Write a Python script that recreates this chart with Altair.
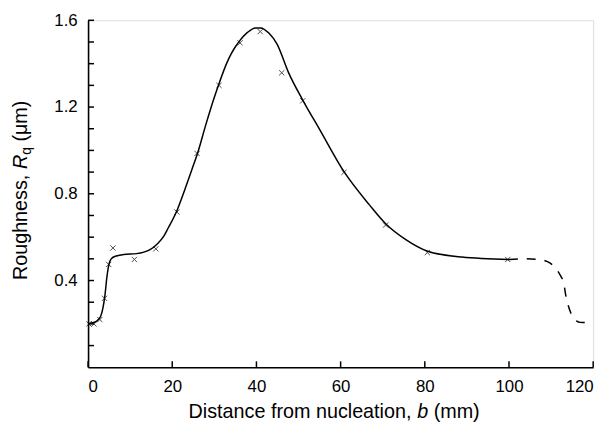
import altair as alt
import pandas as pd

# ---- data ----
curve_x = [0, 1, 2, 3, 3.5, 4, 4.5, 5, 5.5, 6.5, 8.5, 11.5, 14.5, 16.5, 18, 19, 21, 23, 25, 26,
           28, 30, 31, 33, 34, 35, 36, 37.8, 39.8, 41, 43, 44.9, 47.6, 51, 55, 60.8,
           66.8, 70.7, 75.4, 80.7, 88.8, 100]
curve_y = [0.20, 0.205, 0.212, 0.235, 0.27, 0.33, 0.42, 0.478, 0.50, 0.512, 0.52, 0.524, 0.54, 0.57, 0.605, 0.641, 0.717, 0.82, 0.93, 0.986,
           1.12, 1.245, 1.302, 1.405, 1.445, 1.478, 1.505, 1.543, 1.565, 1.565, 1.54, 1.49, 1.36, 1.232, 1.097, 0.902,
           0.75, 0.662, 0.59, 0.535, 0.508, 0.497]

dash_x = [100, 104, 107, 109, 110.7, 112.3, 113, 113.5, 114, 114.7, 116, 117, 120]
dash_y = [0.497, 0.50, 0.497, 0.488, 0.465, 0.42, 0.39, 0.33, 0.29, 0.25, 0.214, 0.207, 0.205]

pt_x = [0.2, 1.4, 2.8, 3.9, 4.9, 5.9, 11, 16.1, 21.1, 25.9, 31.1, 36.1, 40.9, 46.0, 51, 60.8, 70.7, 80.6, 99.7]
pt_y = [0.20, 0.20, 0.22, 0.318, 0.474, 0.55, 0.497, 0.546, 0.716, 0.986, 1.30, 1.496, 1.548, 1.358, 1.229, 0.899, 0.656, 0.529, 0.497]

x_tick_values = [0, 20, 40, 60, 80, 100, 120]
y_label_values = [0.4, 0.8, 1.2, 1.6]
y_tick_values = [0.1, 0.2, 0.3, 0.4, 0.5, 0.6, 0.7, 0.8, 0.9, 1.0, 1.1, 1.2, 1.3, 1.4, 1.5, 1.6]

W, H = 511, 351
FONT = "Liberation Sans"

xscale = alt.Scale(domain=[0, 120], nice=False, zero=False)
yscale = alt.Scale(domain=[0, 1.6], nice=False, zero=False)

axis_common = dict(
    title=None, grid=False, ticks=False, tickSize=0,
    domainColor="black", domainWidth=1.6,
    labelColor="black", labelFont=FONT, labelFontSize=17,
)
xaxis = alt.Axis(values=x_tick_values, format="d", labelPadding=12, **axis_common)
yaxis = alt.Axis(values=y_label_values, format=".1f", labelPadding=11, **axis_common)

curve_df = pd.DataFrame({"x": curve_x, "y": curve_y})
dash_df = pd.DataFrame({"x": dash_x, "y": dash_y})
pt_df = pd.DataFrame({"x": pt_x, "y": pt_y})
xt_df = pd.DataFrame({"x": x_tick_values})
yt_df = pd.DataFrame({"y": y_tick_values})

X = alt.X("x:Q", scale=xscale, axis=xaxis)
Y = alt.Y("y:Q", scale=yscale, axis=yaxis)

curve = alt.Chart(curve_df).mark_line(
    color="black", strokeWidth=1.5, interpolate="monotone"
).encode(x=X, y=Y)

dashed = alt.Chart(dash_df).mark_line(
    color="black", strokeWidth=1.5, interpolate="monotone", strokeDash=[9, 9]
).encode(x=X, y=Y)

points = alt.Chart(pt_df).mark_point(
    shape="M-1,-1L1,1M-1,1L1,-1", filled=False, size=28, strokeWidth=1, color="black"
).encode(x=X, y=Y)

xticks = alt.Chart(xt_df).mark_rule(color="black", strokeWidth=1.5).encode(
    x=X, y=alt.value(H), y2=alt.value(H - 6)
)
yticks = alt.Chart(yt_df).mark_rule(color="black", strokeWidth=1.5).encode(
    y=Y, x=alt.value(0), x2=alt.value(6)
)

def txt(s, x, y, size=20, italic=False, angle=0):
    kw = dict(font=FONT, fontSize=size, align="left", baseline="alphabetic", color="black")
    if italic:
        kw["fontStyle"] = "italic"
    if angle:
        kw["angle"] = angle
    return alt.Chart(pd.DataFrame({"t": [s]})).mark_text(**kw).encode(
        text="t:N", x=alt.value(x), y=alt.value(y)
    )

# x title: "Distance from nucleation, b (mm)"
xt_y = 402
xt_x0 = 101.7
xtitle = [
    txt("Distance from nucleation,", xt_x0, xt_y),
    txt("b", xt_x0 + 231.2, xt_y, italic=True),
    txt("(mm)", xt_x0 + 231.2 + 11.1 + 5.6, xt_y),
]

# y title: "Roughness, Rq (μm)" rotated
yt_x = -62
yt_y0 = 262.8
ytitle = [
    txt("Roughness,", yt_x, yt_y0, angle=270),
    txt("R", yt_x, yt_y0 - 112.3, italic=True, angle=270),
    txt("q", yt_x + 4, yt_y0 - 112.3 - 14.4, size=14, angle=270),
    txt("(μm)", yt_x, yt_y0 - 112.3 - 14.4 - 7.8 - 5.6, angle=270),
]

chart = alt.layer(curve, dashed, points, xticks, yticks, *xtitle, *ytitle).properties(
    width=W, height=H,
    autosize="none",
    padding={"left": 81, "top": 10, "right": 15, "bottom": 60},
).configure_view(stroke=None).configure(background="white")

chart.save("out.html", embed_options={"renderer": "svg", "actions": False})
